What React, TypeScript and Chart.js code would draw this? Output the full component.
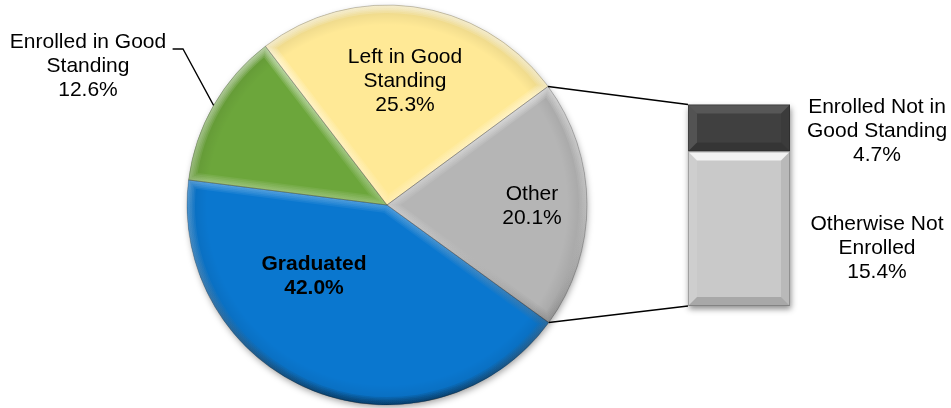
import React, { useEffect, useRef } from "react";
import { Chart, registerables } from "chart.js";

Chart.register(...registerables);

// ---- data ----
const pieLabelLines: string[][] = [
  ["Graduated"],
  ["Enrolled in Good", "Standing"],
  ["Left in Good", "Standing"],
  ["Other"],
];
const pieLabels = pieLabelLines.map((l) => l.join(" "));
const pieValues = [42.0, 12.6, 25.3, 20.1];
const pieColors = ["#0a77cf", "#6ca63b", "#ffe996", "#b5b5b5"];

const barLabelLines: string[][] = [
  ["Otherwise Not", "Enrolled"],
  ["Enrolled Not in", "Good Standing"],
];
const barLabels = barLabelLines.map((l) => l.join(" "));
const barValues = [15.4, 4.7];
const barColors = ["#c9c9c9", "#404040"];
const barTotal = pieValues[3];

// ---- layout (style only) ----
const FONT = "'Liberation Sans', Arial, Helvetica, sans-serif";
const LINE_H = 24;
// label centre offsets relative to pie centre, in radius units
const pieLabelPos = [
  { dx: -0.365, dy: 0.355, bold: true },
  { dx: -1.495, dy: -0.695, bold: false },
  { dx: 0.09, dy: -0.62, bold: false },
  { dx: 0.725, dy: 0.005, bold: false },
];
const BAR_BOX = { left: 676, top: 90, width: 275, height: 230 };

function drawLines(ctx: CanvasRenderingContext2D, lines: string[], x: number, y: number, bold: boolean) {
  ctx.save();
  ctx.font = `${bold ? "bold " : ""}21px ${FONT}`;
  ctx.fillStyle = "#000";
  ctx.textAlign = "center";
  ctx.textBaseline = "middle";
  const start = y - ((lines.length - 1) * LINE_H) / 2;
  lines.forEach((t, i) => ctx.fillText(t, x, start + i * LINE_H));
  ctx.restore();
}

function slicePath(ctx: CanvasRenderingContext2D, x: number, y: number, r: number, a0: number, a1: number) {
  ctx.beginPath();
  ctx.moveTo(x, y);
  ctx.arc(x, y, r, a0, a1);
  ctx.closePath();
}

function bevelRect(ctx: CanvasRenderingContext2D, l: number, t: number, r: number, b: number, s: number, topAlpha: number) {
  const poly = (pts: number[][], fill: string) => {
    ctx.beginPath();
    ctx.moveTo(pts[0][0], pts[0][1]);
    for (let i = 1; i < pts.length; i++) ctx.lineTo(pts[i][0], pts[i][1]);
    ctx.closePath();
    ctx.fillStyle = fill;
    ctx.fill();
  };
  poly([[l, t], [r, t], [r - s, t + s], [l + s, t + s]], `rgba(255,255,255,${topAlpha})`);
  poly([[l, t], [l + s, t + s], [l + s, b - s], [l, b]], "rgba(255,255,255,0.10)");
  poly([[r, t], [r, b], [r - s, b - s], [r - s, t + s]], "rgba(0,0,0,0.08)");
  poly([[l, b], [r, b], [r - s, b - s], [l + s, b - s]], "rgba(0,0,0,0.16)");
  ctx.strokeStyle = "rgba(0,0,0,0.22)";
  ctx.lineWidth = 1;
  ctx.strokeRect(l + 0.5, t + 0.5, r - l - 1, b - t - 1);
}

export default function App() {
  const pieRef = useRef<HTMLCanvasElement>(null);
  const barRef = useRef<HTMLCanvasElement>(null);

  useEffect(() => {
    const barDecor = {
      id: "barDecor",
      beforeDatasetsDraw(chart: any) {
        const a = chart.chartArea;
        const ctx = chart.ctx;
        ctx.save();
        ctx.shadowColor = "rgba(0,0,0,0.45)";
        ctx.shadowBlur = 6;
        ctx.shadowOffsetX = 1;
        ctx.shadowOffsetY = 3;
        ctx.fillStyle = "#bbbbbb";
        ctx.fillRect(a.left, a.top, a.right - a.left, a.bottom - a.top);
        ctx.restore();
      },
      afterDatasetsDraw(chart: any) {
        const ctx = chart.ctx;
        const a = chart.chartArea;
        chart.data.datasets.forEach((_: any, i: number) => {
          const el = chart.getDatasetMeta(i).data[0];
          const { x, y, base, width } = el.getProps(["x", "y", "base", "width"], true);
          const l = x - width / 2;
          const r = x + width / 2;
          const t = Math.min(y, base);
          const b = Math.max(y, base);
          ctx.save();
          bevelRect(ctx, l, t, r, b, 9, i === 0 ? 0.75 : 0.12);
          ctx.restore();
          const mid = (t + b) / 2;
          const lines = [...barLabelLines[i], barValues[i].toFixed(1) + "%"];
          const yOff = i === 0 ? 19 : 3;
          drawLines(ctx, lines, a.right + 87, mid + yOff, false);
        });
      },
    };

    const barChart = new Chart(barRef.current!, {
      type: "bar",
      data: {
        labels: [""],
        datasets: barValues.map((v, i) => ({
          label: barLabels[i],
          data: [v],
          backgroundColor: barColors[i],
          borderWidth: 0,
          barPercentage: 1,
          categoryPercentage: 1,
        })),
      },
      options: {
        responsive: false,
        animation: false,
        events: [],
        layout: { padding: { left: 12, right: 161, top: 14.5, bottom: 14 } },
        plugins: { legend: { display: false }, tooltip: { enabled: false } },
        scales: {
          x: { display: false, stacked: true },
          y: { display: false, stacked: true, min: 0, max: barTotal },
        },
      },
      plugins: [barDecor],
    });

    const pieDecor = {
      id: "pieDecor",
      beforeDatasetsDraw(chart: any) {
        const ctx = chart.ctx;
        const arc = chart.getDatasetMeta(0).data[0];
        const { x, y, outerRadius } = arc.getProps(["x", "y", "outerRadius"], true);
        ctx.save();
        ctx.shadowColor = "rgba(0,0,0,0.4)";
        ctx.shadowBlur = 7;
        ctx.shadowOffsetX = 1;
        ctx.shadowOffsetY = 3;
        ctx.beginPath();
        ctx.arc(x, y, outerRadius - 1, 0, Math.PI * 2);
        ctx.fillStyle = "#999";
        ctx.fill();
        ctx.restore();
      },
      afterDatasetsDraw(chart: any) {
        const ctx = chart.ctx;
        const arcs = chart.getDatasetMeta(0).data;
        let cx = 0, cy = 0, R = 0;
        arcs.forEach((arc: any) => {
          const { x, y, startAngle, endAngle, outerRadius } = arc.getProps(
            ["x", "y", "startAngle", "endAngle", "outerRadius"],
            true
          );
          cx = x; cy = y; R = outerRadius;
          ctx.save();
          slicePath(ctx, x, y, outerRadius, startAngle, endAngle);
          ctx.clip();
          const rg = ctx.createRadialGradient(x, y, outerRadius * 0.9, x, y, outerRadius);
          rg.addColorStop(0, "rgba(0,0,0,0)");
          rg.addColorStop(1, "rgba(0,0,0,0.10)");
          ctx.fillStyle = rg;
          ctx.fillRect(x - outerRadius, y - outerRadius, outerRadius * 2, outerRadius * 2);
          const lg = ctx.createLinearGradient(0, y - outerRadius, 0, y + outerRadius);
          lg.addColorStop(0, "rgba(255,255,255,0.16)");
          lg.addColorStop(0.5, "rgba(255,255,255,0.06)");
          lg.addColorStop(1, "rgba(0,0,0,0.10)");
          ctx.lineJoin = "miter";
          ctx.strokeStyle = lg;
          for (let k = 1; k <= 5; k++) {
            slicePath(ctx, x, y, outerRadius, startAngle, endAngle);
            ctx.lineWidth = k * 3.2;
            ctx.stroke();
          }
          ctx.restore();
          ctx.save();
          slicePath(ctx, x, y, outerRadius, startAngle, endAngle);
          ctx.lineWidth = 1;
          ctx.strokeStyle = "rgba(0,0,0,0.2)";
          ctx.stroke();
          ctx.restore();
        });

        // labels
        arcs.forEach((arc: any, i: number) => {
          const p = pieLabelPos[i];
          const lines = [...pieLabelLines[i], pieValues[i].toFixed(1) + "%"];
          drawLines(ctx, lines, cx + p.dx * R, cy + p.dy * R, p.bold);
        });

        // leader line for the outside label
        {
          const arc = arcs[1];
          const { startAngle, endAngle } = arc.getProps(["startAngle", "endAngle"], true);
          const m = (startAngle + endAngle) / 2;
          ctx.save();
          ctx.beginPath();
          ctx.moveTo(cx - 1.072 * R, cy - 0.78 * R);
          ctx.lineTo(cx - 1.02 * R, cy - 0.78 * R);
          ctx.lineTo(cx + Math.cos(m) * R, cy + Math.sin(m) * R);
          ctx.strokeStyle = "#000";
          ctx.lineWidth = 1.3;
          ctx.stroke();
          ctx.restore();
        }

        // connector lines to the bar
        {
          const other = arcs[3];
          const { startAngle, endAngle } = other.getProps(["startAngle", "endAngle"], true);
          const topEl = barChart.getDatasetMeta(1).data[0] as any;
          const botEl = barChart.getDatasetMeta(0).data[0] as any;
          const tp = topEl.getProps(["x", "y", "width"], true);
          const bp = botEl.getProps(["x", "base", "width"], true);
          const tx = BAR_BOX.left + tp.x - tp.width / 2;
          const ty = BAR_BOX.top + tp.y;
          const bx = BAR_BOX.left + bp.x - bp.width / 2;
          const by = BAR_BOX.top + bp.base;
          ctx.save();
          ctx.strokeStyle = "#000";
          ctx.lineWidth = 1.5;
          ctx.beginPath();
          ctx.moveTo(cx + Math.cos(startAngle) * R, cy + Math.sin(startAngle) * R);
          ctx.lineTo(tx, ty);
          ctx.moveTo(cx + Math.cos(endAngle) * R, cy + Math.sin(endAngle) * R);
          ctx.lineTo(bx, by);
          ctx.stroke();
          ctx.restore();
        }
      },
    };

    const pieChart = new Chart(pieRef.current!, {
      type: "pie",
      data: {
        labels: pieLabels,
        datasets: [
          {
            data: pieValues,
            backgroundColor: pieColors,
            borderWidth: 0,
          },
        ],
      },
      options: {
        responsive: false,
        animation: false,
        events: [],
        rotation: 126,
        layout: { padding: { left: 187, right: 364, top: 5, bottom: 3 } },
        plugins: { legend: { display: false }, tooltip: { enabled: false } },
      },
      plugins: [pieDecor],
    });

    return () => {
      pieChart.destroy();
      barChart.destroy();
    };
  }, []);

  return (
    <div style={{ position: "absolute", left: 0, top: 0, width: 951, height: 408, background: "#fff", overflow: "hidden" }}>
      <canvas ref={pieRef} width={951} height={408} style={{ position: "absolute", left: 0, top: 0 }} />
      <canvas
        ref={barRef}
        width={BAR_BOX.width}
        height={BAR_BOX.height}
        style={{ position: "absolute", left: BAR_BOX.left, top: BAR_BOX.top }}
      />
    </div>
  );
}
